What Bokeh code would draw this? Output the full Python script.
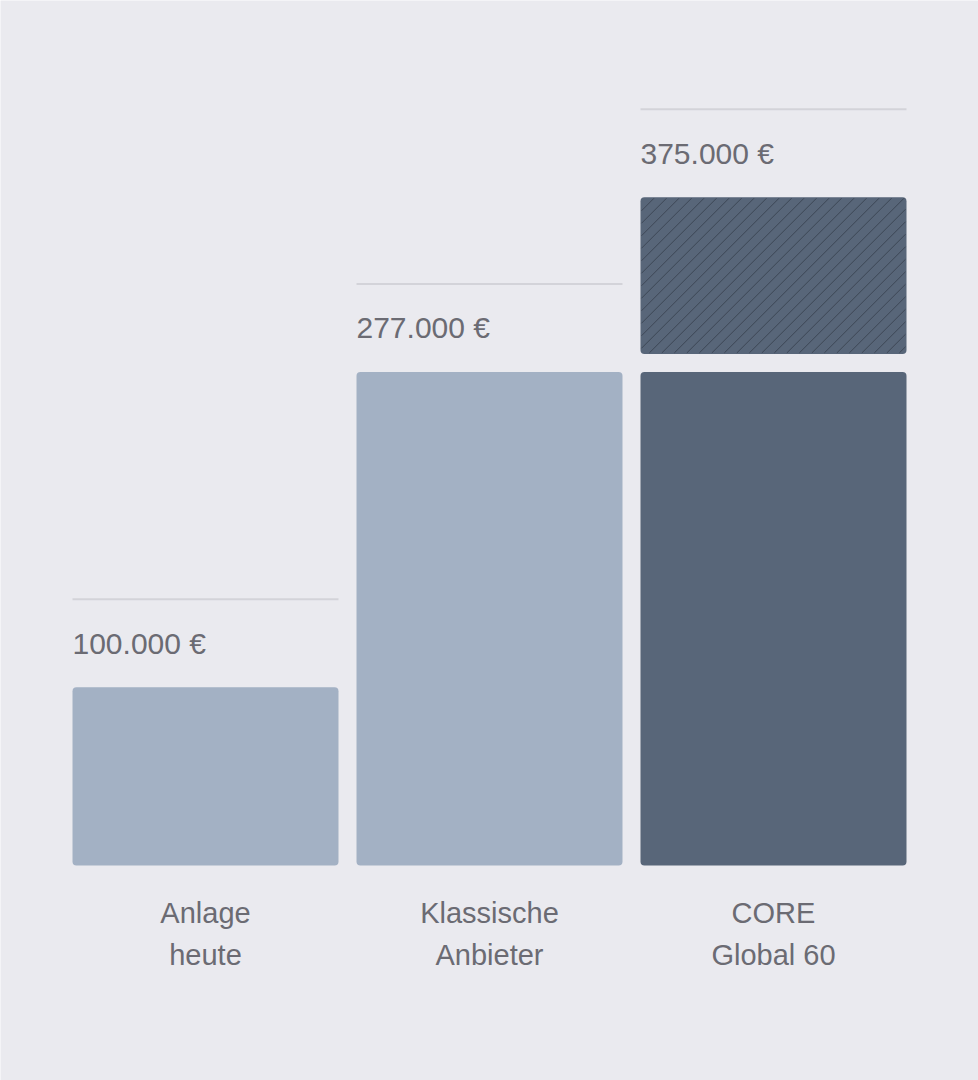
from bokeh.plotting import figure
from bokeh.models import Range1d, ColumnDataSource
from bokeh.core.properties import value
from bokeh.embed import file_html
from bokeh.resources import INLINE

# ---- data ----
categories = ["Anlage\nheute", "Klassische\nAnbieter", "CORE\nGlobal 60"]
base_values = [100000, 277000, 277000]       # solid bar heights
total_values = [100000, 277000, 375000]      # final value per column
total_labels = ["100.000 €", "277.000 €", "375.000 €"]
bar_colors = ["#A3B1C4", "#A3B1C4", "#586679"]
extra_cat = [2]                               # column with additional (hatched) gain
extra_from = [277000]
extra_to = [375000]

# ---- layout constants (pixels) ----
W, H = 978, 1080
PX_PER_EUR = 1.782 / 1000.0
BOTTOM_PX = 215
FIRST_CENTER_PX = 205.0
STEP_PX = 284.0
BAR_PX = 266.0
GAP_PX = 18.0
LINE_ABOVE_PX = 88.0
HATCH_SPACING_PX = 12.5

BG = "#EAEAEF"
TEXT = "#6B6B73"

x = list(range(len(categories)))
half = BAR_PX / STEP_PX / 2.0
left = [i - half for i in x]
right = [i + half for i in x]

p = figure(width=W, height=H, output_backend="svg", toolbar_location=None,
           x_range=Range1d(-FIRST_CENTER_PX / STEP_PX, (W - FIRST_CENTER_PX) / STEP_PX),
           y_range=Range1d(-BOTTOM_PX / PX_PER_EUR, (H - BOTTOM_PX) / PX_PER_EUR),
           min_border=0, min_border_left=0, min_border_right=0,
           min_border_top=0, min_border_bottom=0)
p.xaxis.visible = False
p.yaxis.visible = False
p.grid.visible = False
p.outline_line_color = None
p.background_fill_color = BG
p.border_fill_color = BG

src = ColumnDataSource(dict(left=left, right=right, top=base_values,
                            bottom=[0] * len(x), color=bar_colors,
                            total=total_values, label=total_labels, x=x,
                            line1=[c.split("\n")[0] for c in categories],
                            line2=[c.split("\n")[1] for c in categories],
                            ref=[v + LINE_ABOVE_PX / PX_PER_EUR for v in total_values]))

p.quad(left="left", right="right", top="top", bottom="bottom", source=src,
       fill_color="color", line_color=None, border_radius=4)

# hatched additional gain
ex_left = [left[i] for i in extra_cat]
ex_right = [right[i] for i in extra_cat]
ex_bottom = [v + GAP_PX / PX_PER_EUR for v in extra_from]
p.quad(left=ex_left, right=ex_right, top=extra_to, bottom=ex_bottom,
       fill_color="#586679", line_color=None, border_radius=4)

# 45-degree hatch texture inside the hatched bar (computed in pixel space)
hx0, hy0, hx1, hy1 = [], [], [], []
for l, r, b, t in zip(ex_left, ex_right, ex_bottom, extra_to):
    Lp, Rp = l * STEP_PX, r * STEP_PX          # px, x grows right
    Bp, Tp = b * PX_PER_EUR, t * PX_PER_EUR    # px, y grows up
    inset = 1.0
    Lp, Rp, Bp, Tp = Lp + inset, Rp - inset, Bp + inset, Tp - inset
    # lines x - y = c  (rising to the right)
    c = Lp - Tp
    while c <= Rp - Bp:
        xa = max(Lp, c + Bp)
        xb = min(Rp, c + Tp)
        if xb > xa:
            hx0.append(xa / STEP_PX); hy0.append((xa - c) / PX_PER_EUR)
            hx1.append(xb / STEP_PX); hy1.append((xb - c) / PX_PER_EUR)
        c += HATCH_SPACING_PX
p.segment(x0=hx0, y0=hy0, x1=hx1, y1=hy1, line_color="#343C49",
          line_alpha=0.75, line_width=1)

# reference lines above each column
p.segment(x0="left", x1="right", y0="ref", y1="ref", source=src,
          line_color="#D3D3D9", line_width=2)

# value labels
p.text(x="left", y="total", text="label", source=src, y_offset=-44,
       text_font=value("Liberation Sans"), text_font_size="30px",
       text_color=TEXT, text_align="left", text_baseline="alphabetic")

# category labels
p.text(x="x", y="bottom", text="line1", source=src, y_offset=47,
       text_font=value("Liberation Sans"), text_font_size="29px",
       text_color=TEXT, text_align="center", text_baseline="alphabetic")
p.text(x="x", y="bottom", text="line2", source=src, y_offset=89,
       text_font=value("Liberation Sans"), text_font_size="29px",
       text_color=TEXT, text_align="center", text_baseline="alphabetic")

html = file_html(p, INLINE)
html = html.replace("<body>", '<body style="background-color:#EAEAEF;margin:0;overflow:hidden;">', 1)
open("out.html", "w").write(html)
